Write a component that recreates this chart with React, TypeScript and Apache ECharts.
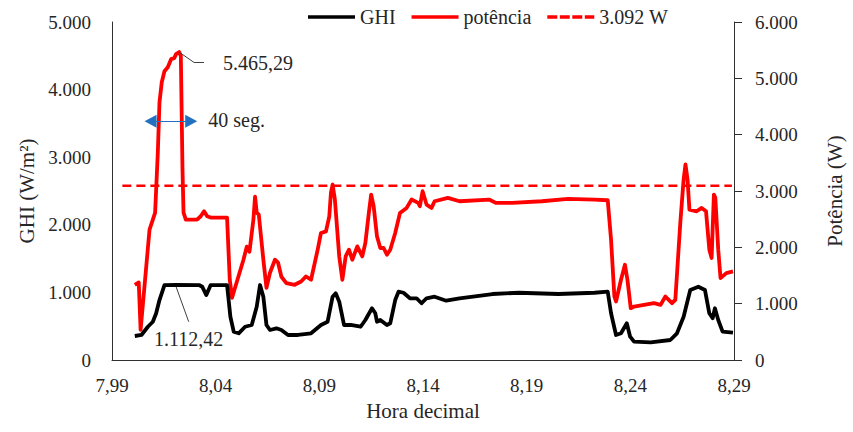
import React, { useEffect, useRef } from 'react';
import * as echarts from 'echarts';

// Hora decimal (x) and GHI (W/m²)
const ghiX = [8.0010,8.0042,8.0073,8.0097,8.0113,8.0129,8.0153,8.0209,8.0320,8.0335,8.0355,8.0376,8.0455,8.0471,8.0487,8.0511,8.0542,8.0574,8.0598,8.0614,8.0630,8.0645,8.0662,8.0693,8.0717,8.0749,8.0797,8.0860,8.0908,8.0940,8.0964,8.0979,8.0996,8.1019,8.1051,8.1099,8.1122,8.1154,8.1170,8.1178,8.1194,8.1226,8.1242,8.1266,8.1282,8.1306,8.1337,8.1369,8.1393,8.1417,8.1456,8.1512,8.1576,8.1735,8.1862,8.2053,8.2227,8.2291,8.2307,8.2331,8.2355,8.2383,8.2399,8.2418,8.2498,8.2593,8.2625,8.2657,8.2689,8.2728,8.2760,8.2781,8.2797,8.2808,8.2824,8.2845,8.2895];
const ghiY = [355,370,492,566,691,887,1109,1112.42,1109,1084,961,1109,1109,640,419,395,492,518,788,1109,936,518,444,469,444,370,370,395,518,566,936,986,862,518,518,492,592,765,691,566,592,518,543,887,1010,995,913,913,839,913,936,877,913,976,995,976,995,1010,691,370,395,543,345,271,262,296,395,640,1035,1084,1035,691,617,765,592,419,404];

// Hora decimal (x) and potência (W)
const powX = [8.0010,8.0029,8.0038,8.0081,8.0097,8.0108,8.0121,8.0129,8.0140,8.0153,8.0169,8.0185,8.0200,8.0209,8.0224,8.0232,8.0240,8.0245,8.0256,8.0310,8.0328,8.0344,8.0359,8.0376,8.0455,8.0468,8.0479,8.0534,8.0550,8.0563,8.0582,8.0590,8.0598,8.0608,8.0630,8.0645,8.0662,8.0686,8.0701,8.0717,8.0741,8.0781,8.0812,8.0836,8.0860,8.0892,8.0908,8.0932,8.0948,8.0956,8.0964,8.0975,8.0996,8.1011,8.1027,8.1043,8.1059,8.1083,8.1107,8.1122,8.1139,8.1150,8.1162,8.1178,8.1194,8.1210,8.1226,8.1242,8.1266,8.1289,8.1321,8.1345,8.1377,8.1385,8.1398,8.1417,8.1441,8.1456,8.1520,8.1576,8.1719,8.1751,8.1830,8.1973,8.2100,8.2227,8.2291,8.2307,8.2323,8.2331,8.2355,8.2374,8.2386,8.2402,8.2418,8.2466,8.2514,8.2546,8.2569,8.2601,8.2617,8.2641,8.2657,8.2666,8.2676,8.2685,8.2720,8.2744,8.2765,8.2781,8.2792,8.2803,8.2810,8.2824,8.2835,8.2863,8.2895];
const powY = [1335,1376,534,2314,2492,2617,3685,4575,4931,5126,5198,5340,5358,5429,5465.29,5399,3382,2617,2492,2492,2551,2640,2551,2528,2528,1424,1104,1780,2011,1922,2492,2901,2617,2581,1780,1282,1549,1780,1727,1477,1365,1335,1394,1483,1424,1958,2255,2284,2551,2973,3115,2848,1839,1424,1839,1958,1780,2017,1839,2077,2617,2937,2729,2195,1988,1988,1869,1958,2255,2611,2700,2848,2789,2729,2996,2759,2700,2818,2878,2818,2848,2789,2789,2818,2860,2848,2836,2136,1127,1038,1424,1691,1424,920,949,979,1009,979,1127,1009,1068,2433,3204,3471,3204,2670,2640,2700,2640,1958,1810,2937,2878,1958,1454,1543,1572];

// Reference line 3.092 W
const limitX = [7.995, 8.289];
const limitValue = 3092;

// Series names
const seriesNames = ['GHI', 'potência', '3.092 W'];

// Axes
const xMin = 7.99, xMax = 8.29, xStep = 0.05;
const ghiMax = 5000, powMax = 6000, yStep = 1000;

// Annotations (data coordinates)
const peakText = '5.465,29';
const peakTextAt = [8.0604, 5269];
const peakLeader = [[8.0224, 5465.29], [8.0296, 5281], [8.0344, 5281]];
const ghiText = '1.112,42';
const ghiTextAt = [8.0270, 311];
const ghiLeader = [[8.0209, 1084], [8.0270, 566]];
const arrowEnds = [[8.0086, 4236], [8.0282, 4236]];
const arrowText = '40 seg.';
const arrowTextAt = [8.0501, 4254];

const FONT = '"Liberation Serif", "Times New Roman", serif';
const TXT = '#262626';

const SOLID_ICON = 'path://M0,0H47V3.5H0Z';
const DASH_ICON = 'path://M0,0H10V3.5H0Z M12.5,0H22.5V3.5H12.5Z M25,0H35V3.5H25Z M37.5,0H47V3.5H37.5Z';

const thousands = (v: number) => String(v).replace(/\B(?=(\d{3})+(?!\d))/g, '.');

export default function App() {
  const ref = useRef<HTMLDivElement>(null);
  useEffect(() => {
    document.body.style.margin = '0';
    const chart = echarts.init(ref.current!, null, { renderer: 'svg' });
    const textPoint = (coord: number[], text: string) => ({
      coord,
      symbol: 'circle',
      symbolSize: 0,
      itemStyle: { color: 'transparent' },
      label: { show: true, position: 'inside', formatter: text, fontFamily: FONT, fontSize: 20, color: TXT },
    });
    const seg = (a: number[], b: number[]) => [{ coord: a }, { coord: b }];
    const option: any = {
      animation: false,
      backgroundColor: '#ffffff',
      textStyle: { fontFamily: FONT },
      grid: { left: 112, right: 112, top: 22, bottom: 72 },
      legend: {
        left: 303,
        top: 2,
        itemWidth: 47,
        itemHeight: 3.5,
        itemGap: 16,
        data: [
          { name: seriesNames[0], icon: SOLID_ICON },
          { name: seriesNames[1], icon: SOLID_ICON },
          { name: seriesNames[2], icon: DASH_ICON },
        ],
        textStyle: { fontFamily: FONT, fontSize: 20, color: TXT },
      },
      xAxis: {
        type: 'value',
        min: xMin,
        max: xMax,
        interval: xStep,
        name: 'Hora decimal',
        nameLocation: 'middle',
        nameGap: 40,
        nameTextStyle: { fontFamily: FONT, fontSize: 21, color: TXT },
        axisLine: { show: true, lineStyle: { color: '#303030', width: 1 } },
        axisTick: { show: false },
        splitLine: { show: false },
        axisLabel: {
          margin: 16,
          fontFamily: FONT,
          fontSize: 19,
          color: TXT,
          formatter: (v: number) => v.toFixed(2).replace('.', ','),
        },
      },
      yAxis: [
        {
          type: 'value',
          min: 0,
          max: ghiMax,
          interval: yStep,
          name: 'GHI (W/m²)',
          nameLocation: 'middle',
          nameRotate: 90,
          nameGap: 74,
          nameTextStyle: { fontFamily: FONT, fontSize: 21, color: TXT },
          axisLine: { show: true, lineStyle: { color: '#303030', width: 1 } },
          axisTick: { show: false },
          splitLine: { show: false },
          axisLabel: { margin: 21, fontFamily: FONT, fontSize: 19, color: TXT, formatter: thousands },
        },
        {
          type: 'value',
          min: 0,
          max: powMax,
          interval: yStep,
          position: 'right',
          name: 'Potência (W)',
          nameLocation: 'middle',
          nameRotate: 90,
          nameGap: 90,
          nameTextStyle: { fontFamily: FONT, fontSize: 21, color: TXT },
          axisLine: { show: true, lineStyle: { color: '#303030', width: 1 } },
          axisTick: { show: true, inside: false, length: 8, lineStyle: { color: '#303030' } },
          splitLine: { show: false },
          axisLabel: { margin: 21, fontFamily: FONT, fontSize: 19, color: TXT, formatter: thousands },
        },
      ],
      series: [
        {
          name: seriesNames[1],
          type: 'line',
          yAxisIndex: 1,
          showSymbol: false,
          symbol: 'none',
          data: powX.map((x, i) => [x, powY[i]]),
          lineStyle: { color: '#ff0000', width: 3.8, join: 'round' },
          itemStyle: { color: '#ff0000' },
          z: 2,
          markLine: {
            silent: true,
            symbol: 'none',
            label: { show: false },
            lineStyle: { color: '#404040', width: 1, type: 'solid' },
            data: [seg(peakLeader[0], peakLeader[1]), seg(peakLeader[1], peakLeader[2])],
          },
          markPoint: {
            silent: true,
            data: [textPoint(peakTextAt, peakText), textPoint(arrowTextAt, arrowText)],
          },
        },
        {
          name: seriesNames[0],
          type: 'line',
          yAxisIndex: 0,
          showSymbol: false,
          symbol: 'none',
          data: ghiX.map((x, i) => [x, ghiY[i]]),
          lineStyle: { color: '#000000', width: 3.8, join: 'round' },
          itemStyle: { color: '#000000' },
          z: 3,
          markLine: {
            silent: true,
            symbol: 'none',
            label: { show: false },
            lineStyle: { color: '#404040', width: 1, type: 'solid' },
            data: [seg(ghiLeader[0], ghiLeader[1])],
          },
          markPoint: {
            silent: true,
            data: [textPoint(ghiTextAt, ghiText)],
          },
        },
        {
          name: seriesNames[2],
          type: 'line',
          yAxisIndex: 1,
          showSymbol: false,
          symbol: 'none',
          data: limitX.map((x) => [x, limitValue]),
          lineStyle: { color: '#ff0000', width: 2.5, type: [9, 5] },
          itemStyle: { color: '#ff0000' },
          z: 1,
          markLine: {
            silent: true,
            symbol: ['triangle', 'triangle'],
            symbolSize: [13, 12],
            label: { show: false },
            lineStyle: { color: '#2470c0', width: 1.2, type: 'solid' },
            itemStyle: { color: '#2470c0' },
            data: [seg(arrowEnds[0], arrowEnds[1])],
          },
        },
      ],
    };
    chart.setOption(option);
    return () => chart.dispose();
  }, []);
  return <div ref={ref} style={{ width: 853, height: 432 }} />;
}
